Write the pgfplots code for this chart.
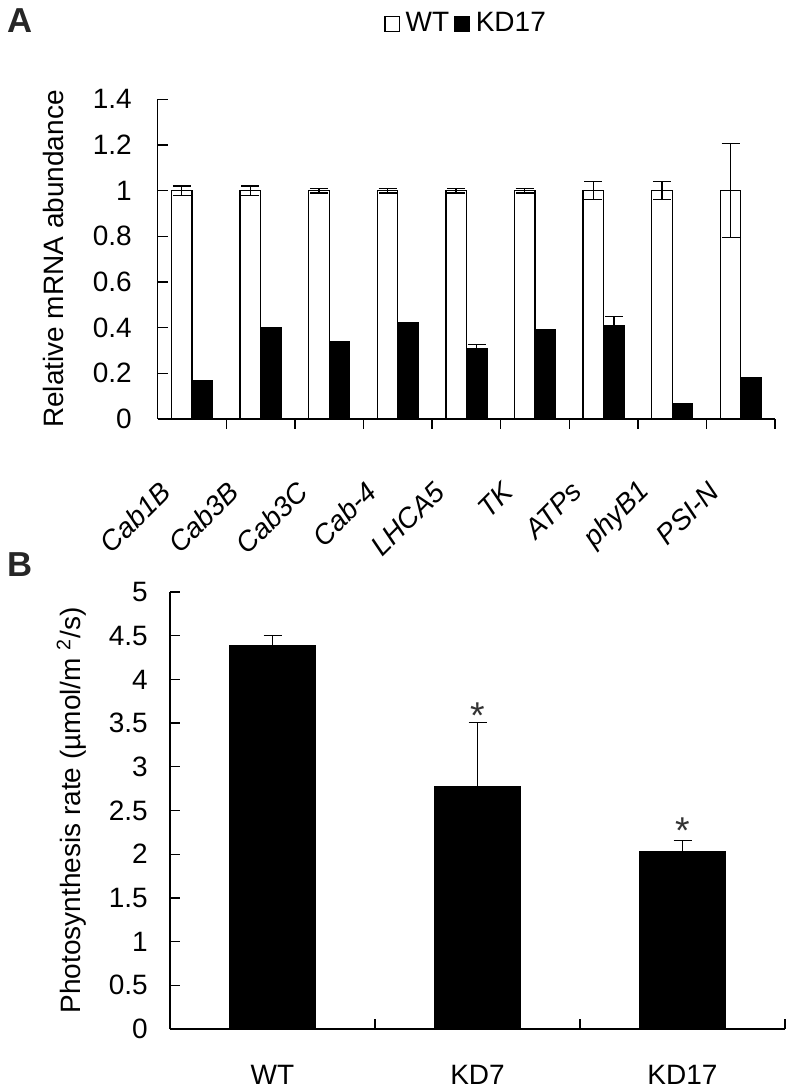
\documentclass[border=0pt]{standalone}
\usepackage{pgfplots}
\pgfplotsset{compat=1.18}
\usepackage{fontspec}
\setmainfont{Liberation Sans}
\begin{document}
\fontsize{21}{25}\selectfont
\begin{tikzpicture}
\path[use as bounding box] (0,0) rectangle (596.25pt,819pt);
\pgfplotsset{
  mystyle/.style={
    scale only axis,
    axis x line=bottom, axis y line=left,
    axis line style={-, line width=1pt, black},
    tick align=inside,
    major tick length=7.5pt, minor tick length=7.5pt,
    tick style={line width=1pt, black},
    every major x tick/.append style={draw=none},
    /pgf/number format/assume math mode=true,
    clip=false,
    error bars/error bar style={line width=1pt, black},
    error bars/error mark options={rotate=90, line width=1pt, black, mark size=6.75pt},
  }
}
% ---------------- Panel A ----------------
\begin{axis}[mystyle,
  at={(118.3pt,504.75pt)}, anchor=south west,
  width=463pt, height=239.8pt,
  xmin=0.5, xmax=9.5, ymin=0, ymax=1.4,
  ytick={0,0.2,0.4,0.6,0.8,1,1.2,1.4},
  xtick={1,2,3,4,5,6,7,8,9},
  xticklabels={Cab1B,Cab3B,Cab3C,Cab-4,LHCA5,TK,ATPs,phyB1,PSI-N},
  minor xtick={1.5,2.5,3.5,4.5,5.5,6.5,7.5,8.5,9.5},
  xticklabel style={xshift=-20pt, yshift=-43.5pt, rotate=45, anchor=east, inner sep=0pt, font=\itshape},
  yticklabel style={anchor=east, inner sep=0pt, xshift=-19.3pt},
  ybar=0pt, bar width=15.4pt,
  ylabel={Relative mRNA abundance},
  every axis y label/.style={at={(rel axis cs:-0.1695,0.5)}, rotate=90, anchor=center},
  legend columns=2,
  legend style={draw=none, fill=none, at={(0.5,1)}, anchor=center, yshift=56.5pt,
    column sep=2pt, inner sep=0pt, nodes={inner sep=2pt}},
]
\addplot[ybar, fill=white, draw=black, line width=1pt,
  legend image code/.code={\draw[fill=white,draw=black,line width=1pt] (0pt,-5.5pt) rectangle (11pt,5.5pt);},
  error bars/.cd, y dir=both, y explicit]
coordinates {
  (1,1) +- (0,0.02)
  (2,1) +- (0,0.02)
  (3,1) +- (0,0.01)
  (4,1) +- (0,0.01)
  (5,1) +- (0,0.01)
  (6,1) +- (0,0.01)
  (7,1) +- (0,0.04)
  (8,1) +- (0,0.04)
  (9,1) +- (0,0.205)
};
\addlegendentry{WT}
\addplot[ybar, fill=black, draw=black, line width=1pt,
  legend image code/.code={\draw[fill=black,draw=black,line width=1pt] (0pt,-5.5pt) rectangle (11pt,5.5pt);},
  error bars/.cd, y dir=plus, y explicit]
coordinates {
  (1,0.17) +- (0,0)
  (2,0.40) +- (0,0)
  (3,0.34) +- (0,0)
  (4,0.42) +- (0,0)
  (5,0.31) +- (0,0.015)
  (6,0.39) +- (0,0)
  (7,0.41) +- (0,0.04)
  (8,0.065) +- (0,0)
  (9,0.18) +- (0,0)
};
\addlegendentry{KD17}
\end{axis}
% ---------------- Panel B ----------------
\begin{axis}[mystyle,
  at={(127.5pt,47.25pt)}, anchor=south west,
  width=461.25pt, height=327.75pt,
  xmin=0.5, xmax=3.5, ymin=0, ymax=5,
  ytick={0,0.5,1,1.5,2,2.5,3,3.5,4,4.5,5},
  xtick={1,2,3},
  xticklabels={WT,KD7,KD17},
  minor xtick={1.5,2.5,3.5},
  xticklabel style={anchor=north, inner sep=0pt, yshift=-27pt},
  yticklabel style={anchor=east, inner sep=0pt, xshift=-16.5pt},
  bar width=63.75pt,
  ylabel={Photosynthesis rate (µmol/m \textsuperscript{2}/s)},
  every axis y label/.style={at={(rel axis cs:-0.1604,0.5)}, rotate=90, anchor=center},
]
\addplot[ybar, fill=black, draw=black, line width=1pt,
  error bars/.cd, y dir=plus, y explicit]
coordinates {
  (1,4.39) +- (0,0.11)
  (2,2.77) +- (0,0.74)
  (3,2.03) +- (0,0.13)
};
\node[font=\fontsize{28}{30}\selectfont, text=black!80, yshift=-6pt] at (axis cs:2,3.68) {*};
\node[font=\fontsize{28}{30}\selectfont, text=black!80, yshift=-6pt] at (axis cs:3,2.36) {*};
\end{axis}
\node[font=\bfseries\fontsize{26}{28}\selectfont, text=black!85] at (15pt,803.25pt) {A};
\node[font=\bfseries\fontsize{26}{28}\selectfont, text=black!85] at (15pt,395.25pt) {B};
\end{tikzpicture}
\end{document}
